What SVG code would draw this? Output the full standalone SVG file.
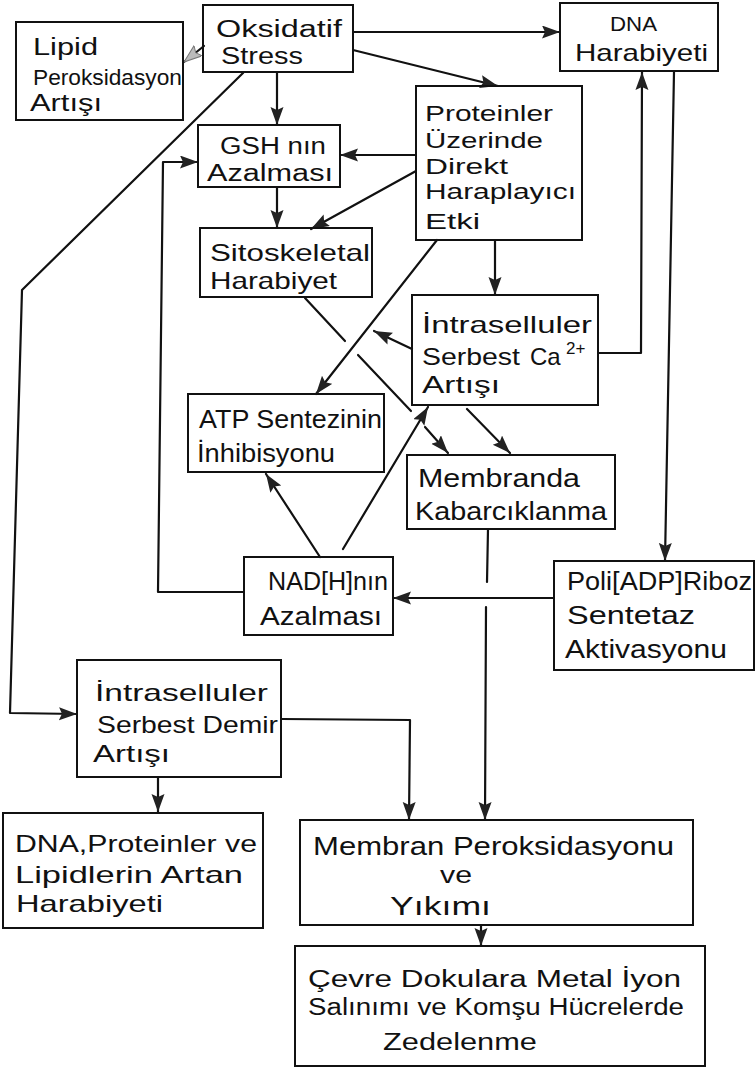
<svg xmlns="http://www.w3.org/2000/svg" width="755" height="1068" viewBox="0 0 755 1068">
<style>
.box{fill:none;stroke:#111;stroke-width:2}
.t{font-family:"Liberation Sans","DejaVu Sans",sans-serif;fill:#111}
.c{fill:none;stroke:#111;stroke-width:2.2;stroke-linecap:round;stroke-linejoin:round}
</style>
<defs>
<marker id="ah" markerUnits="userSpaceOnUse" markerWidth="20" markerHeight="14" refX="18" refY="6.5" orient="auto">
<path d="M0,0 L18,6.5 L0,13 L3,6.5 Z" fill="#222"/>
</marker>
<marker id="ahl" markerUnits="userSpaceOnUse" markerWidth="20" markerHeight="14" refX="18" refY="6.5" orient="auto">
<path d="M0,0 L18,6.5 L0,13 L3,6.5 Z" fill="#bbb" stroke="#777" stroke-width="1"/>
</marker>
</defs>
<rect width="755" height="1068" fill="#fff"/>

<g id="connectors">
<path class="c" d="M204,46 L184,62" marker-end="url(#ahl)"/>
<path class="c" d="M353,32 L560,32" marker-end="url(#ah)"/>
<path class="c" d="M353,50 L498,86" marker-end="url(#ah)"/>
<path class="c" d="M277,72 L277,125" marker-end="url(#ah)"/>
<path class="c" d="M243,73 L22,290 L10,713 L77,714" marker-end="url(#ah)"/>
<path class="c" d="M416,155 L340,155" marker-end="url(#ah)"/>
<path class="c" d="M416,171 L311,229" marker-end="url(#ah)"/>
<path class="c" d="M277,187 L277,228" marker-end="url(#ah)"/>
<path class="c" d="M495,240 L495,295" marker-end="url(#ah)"/>
<path class="c" d="M437,240 L316,394" marker-end="url(#ah)"/>
<path class="c" d="M305,298 L345,341 M358,355 L411,411 M425,427 L448,453" marker-end="url(#ah)"/>
<path class="c" d="M412,349 L374,331" marker-end="url(#ah)"/>
<path class="c" d="M467,409 L510,453" marker-end="url(#ah)"/>
<path class="c" d="M598,353 L641,353 L642,72" marker-end="url(#ah)"/>
<path class="c" d="M674,72 L665,561" marker-end="url(#ah)"/>
<path class="c" d="M320,557 L266,474" marker-end="url(#ah)"/>
<path class="c" d="M343,549 L428,407" marker-end="url(#ah)"/>
<path class="c" d="M244,592 L158,592 L163,162 L198,162" marker-end="url(#ah)"/>
<path class="c" d="M554,598 L393,598" marker-end="url(#ah)"/>
<path class="c" d="M488,529 L487,582"/>
<path class="c" d="M486,607 L485,820" marker-end="url(#ah)"/>
<path class="c" d="M158,777 L158,812" marker-end="url(#ah)"/>
<path class="c" d="M282,719 L410,720 L409,820" marker-end="url(#ah)"/>
<path class="c" d="M481,925 L481,946" marker-end="url(#ah)"/>
</g>

<g id="oksidatif">
<rect class="box" x="203" y="5" width="150" height="67"/>
<text class="t" font-size="23" x="216" y="37" textLength="126" lengthAdjust="spacingAndGlyphs">Oksidatif</text>
<text class="t" font-size="23" x="221" y="64" textLength="82" lengthAdjust="spacingAndGlyphs">Stress</text>
</g>

<g id="lipid">
<rect class="box" x="16" y="22" width="167" height="98"/>
<text class="t" font-size="23" x="33" y="55" textLength="65" lengthAdjust="spacingAndGlyphs">Lipid</text>
<text class="t" font-size="22" x="33" y="85" textLength="149" lengthAdjust="spacingAndGlyphs">Peroksidasyon</text>
<text class="t" font-size="23" x="30" y="111" textLength="72" lengthAdjust="spacingAndGlyphs">Artışı</text>
</g>

<g id="dna">
<rect class="box" x="560" y="3" width="158" height="68"/>
<text class="t" font-size="21" x="610" y="31" textLength="47" lengthAdjust="spacingAndGlyphs">DNA</text>
<text class="t" font-size="24" x="575" y="61" textLength="133" lengthAdjust="spacingAndGlyphs">Harabiyeti</text>
</g>

<g id="proteinler">
<rect class="box" x="416" y="86" width="166" height="154"/>
<text class="t" font-size="22" x="425" y="121" textLength="128" lengthAdjust="spacingAndGlyphs">Proteinler</text>
<text class="t" font-size="22" x="425" y="148" textLength="118" lengthAdjust="spacingAndGlyphs">Üzerinde</text>
<text class="t" font-size="22" x="425" y="174" textLength="83" lengthAdjust="spacingAndGlyphs">Direkt</text>
<text class="t" font-size="22" x="425" y="199" textLength="151" lengthAdjust="spacingAndGlyphs">Haraplayıcı</text>
<text class="t" font-size="22" x="425" y="229" textLength="55" lengthAdjust="spacingAndGlyphs">Etki</text>
</g>

<g id="gsh">
<rect class="box" x="198" y="125" width="142" height="62"/>
<text class="t" font-size="23" x="220" y="154" textLength="106" lengthAdjust="spacingAndGlyphs">GSH nın</text>
<text class="t" font-size="23" x="207" y="181" textLength="126" lengthAdjust="spacingAndGlyphs">Azalması</text>
</g>

<g id="sitoskeletal">
<rect class="box" x="200" y="228" width="172" height="69"/>
<text class="t" font-size="24" x="210" y="261" textLength="160" lengthAdjust="spacingAndGlyphs">Sitoskeletal</text>
<text class="t" font-size="24" x="210" y="289" textLength="127" lengthAdjust="spacingAndGlyphs">Harabiyet</text>
</g>

<g id="calcium">
<rect class="box" x="412" y="295" width="186" height="110"/>
<text class="t" font-size="24" x="422" y="333" textLength="170" lengthAdjust="spacingAndGlyphs">İntraselluler</text>
<text class="t" font-size="24" y="365"><tspan x="422" textLength="98" lengthAdjust="spacingAndGlyphs">Serbest</tspan><tspan x="530">Ca</tspan><tspan x="566" y="354" font-size="17">2+</tspan></text>
<text class="t" font-size="24" x="422" y="393" textLength="78" lengthAdjust="spacingAndGlyphs">Artışı</text>
</g>

<g id="atp">
<rect class="box" x="188" y="394" width="196" height="78"/>
<text class="t" font-size="25" x="199" y="428" textLength="183" lengthAdjust="spacingAndGlyphs">ATP Sentezinin</text>
<text class="t" font-size="25" x="197" y="462" textLength="138" lengthAdjust="spacingAndGlyphs">İnhibisyonu</text>
</g>

<g id="membranda">
<rect class="box" x="407" y="455" width="208" height="74"/>
<text class="t" font-size="26" x="418" y="487" textLength="162" lengthAdjust="spacingAndGlyphs">Membranda</text>
<text class="t" font-size="26" x="415" y="520" textLength="192" lengthAdjust="spacingAndGlyphs">Kabarcıklanma</text>
</g>

<g id="nadh">
<rect class="box" x="244" y="557" width="149" height="78"/>
<text class="t" font-size="25" x="268" y="590" textLength="120" lengthAdjust="spacingAndGlyphs">NAD[H]nın</text>
<text class="t" font-size="25" x="260" y="625" textLength="122" lengthAdjust="spacingAndGlyphs">Azalması</text>
</g>

<g id="poli">
<rect class="box" x="554" y="561" width="200" height="109"/>
<text class="t" font-size="25" x="567" y="590" textLength="185" lengthAdjust="spacingAndGlyphs">Poli[ADP]Riboz</text>
<text class="t" font-size="26" x="567" y="624" textLength="128" lengthAdjust="spacingAndGlyphs">Sentetaz</text>
<text class="t" font-size="26" x="565" y="658" textLength="162" lengthAdjust="spacingAndGlyphs">Aktivasyonu</text>
</g>

<g id="demir">
<rect class="box" x="77" y="660" width="204" height="117"/>
<text class="t" font-size="24" x="95" y="701" textLength="173" lengthAdjust="spacingAndGlyphs">İntraselluler</text>
<text class="t" font-size="24" x="97" y="733" textLength="181" lengthAdjust="spacingAndGlyphs">Serbest Demir</text>
<text class="t" font-size="24" x="93" y="762" textLength="77" lengthAdjust="spacingAndGlyphs">Artışı</text>
</g>

<g id="artan-harabiyet">
<rect class="box" x="3" y="813" width="260" height="115"/>
<text class="t" font-size="24" x="15" y="852" textLength="242" lengthAdjust="spacingAndGlyphs">DNA,Proteinler ve</text>
<text class="t" font-size="24" x="15" y="883" textLength="228" lengthAdjust="spacingAndGlyphs">Lipidlerin Artan</text>
<text class="t" font-size="24" x="16" y="912" textLength="147" lengthAdjust="spacingAndGlyphs">Harabiyeti</text>
</g>

<g id="membran-peroksidasyonu">
<rect class="box" x="300" y="820" width="393" height="105"/>
<text class="t" font-size="25" x="313" y="855" textLength="361" lengthAdjust="spacingAndGlyphs">Membran Peroksidasyonu</text>
<text class="t" font-size="23" x="440" y="883" textLength="32" lengthAdjust="spacingAndGlyphs">ve</text>
<text class="t" font-size="25" x="390" y="915" textLength="101" lengthAdjust="spacingAndGlyphs">Yıkımı</text>
</g>

<g id="cevre">
<rect class="box" x="295" y="946" width="410" height="120"/>
<text class="t" font-size="23" x="308" y="987" textLength="373" lengthAdjust="spacingAndGlyphs">Çevre Dokulara Metal İyon</text>
<text class="t" font-size="23" x="308" y="1015" textLength="376" lengthAdjust="spacingAndGlyphs">Salınımı ve Komşu Hücrelerde</text>
<text class="t" font-size="23" x="383" y="1050" textLength="154" lengthAdjust="spacingAndGlyphs">Zedelenme</text>
</g>
</svg>
